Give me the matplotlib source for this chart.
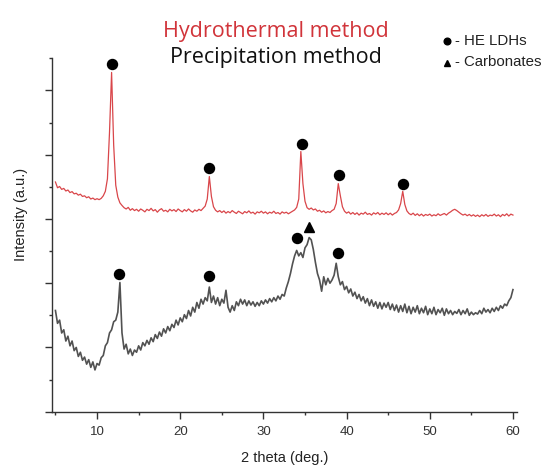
import numpy as np
import matplotlib
matplotlib.use("Agg")
import matplotlib.pyplot as plt
from matplotlib.ticker import MultipleLocator

# ---------------- data ----------------
two_theta = np.arange(5.0, 60.001, 0.25)

hydrothermal = [
    7.15, 6.97, 7.01, 6.92, 6.95, 6.87, 6.90, 6.82, 6.85, 6.78, 6.80, 6.74, 6.77, 6.70, 6.72, 6.66, 6.69, 6.62, 6.65, 6.60,
    6.63, 6.60, 6.64, 6.72, 6.86, 7.25, 8.70, 10.56, 8.30, 7.05, 6.68, 6.50, 6.42, 6.35, 6.31, 6.36, 6.27, 6.32, 6.26, 6.30,
    6.24, 6.31, 6.27, 6.22, 6.30, 6.26, 6.33, 6.25, 6.29, 6.21, 6.28, 6.32, 6.24, 6.27, 6.22, 6.30, 6.25, 6.29, 6.23, 6.31,
    6.26, 6.22, 6.29, 6.24, 6.31, 6.25, 6.21, 6.28, 6.24, 6.30, 6.26, 6.33, 6.40, 6.62, 7.32, 6.70, 6.38, 6.27, 6.22, 6.26,
    6.20, 6.25, 6.18, 6.23, 6.19, 6.26, 6.21, 6.17, 6.24, 6.20, 6.16, 6.23, 6.19, 6.25, 6.18, 6.21, 6.15, 6.22, 6.19, 6.24,
    6.18, 6.22, 6.16, 6.21, 6.18, 6.24, 6.17, 6.20, 6.15, 6.22, 6.18, 6.21, 6.16, 6.20, 6.24, 6.28, 6.36, 6.62, 8.10, 7.10,
    6.55, 6.35, 6.30, 6.34, 6.28, 6.31, 6.24, 6.27, 6.21, 6.25, 6.19, 6.23, 6.20, 6.26, 6.30, 6.48, 7.10, 6.72, 6.38, 6.24,
    6.18, 6.22, 6.15, 6.20, 6.14, 6.19, 6.12, 6.18, 6.15, 6.21, 6.14, 6.17, 6.12, 6.19, 6.15, 6.20, 6.13, 6.18, 6.14, 6.19,
    6.13, 6.18, 6.12, 6.17, 6.20, 6.28, 6.48, 6.86, 6.45, 6.25, 6.17, 6.13, 6.18, 6.11, 6.16, 6.10, 6.15, 6.09, 6.14, 6.11,
    6.15, 6.09, 6.13, 6.10, 6.16, 6.11, 6.14, 6.17, 6.12, 6.18, 6.22, 6.27, 6.30, 6.26, 6.21, 6.16, 6.12, 6.15, 6.10, 6.14,
    6.09, 6.13, 6.08, 6.12, 6.07, 6.13, 6.09, 6.14, 6.08, 6.12, 6.10, 6.15, 6.09, 6.13, 6.07, 6.14, 6.10, 6.16, 6.09, 6.15,
    6.12,
]

precipitation = [
    3.15, 2.75, 2.85, 2.45, 2.55, 2.20, 2.35, 2.05, 2.20, 1.90, 2.00, 1.72, 1.85, 1.60, 1.70, 1.48, 1.62, 1.38, 1.55, 1.30,
    1.50, 1.45, 1.68, 1.75, 2.05, 2.15, 2.45, 2.55, 2.80, 2.85, 3.10, 4.02, 2.45, 1.95, 2.10, 1.80, 1.95, 1.75, 1.92, 1.85,
    2.05, 1.92, 2.15, 2.05, 2.22, 2.10, 2.30, 2.18, 2.40, 2.28, 2.48, 2.35, 2.58, 2.45, 2.65, 2.52, 2.72, 2.62, 2.85, 2.70,
    2.92, 2.80, 3.02, 2.90, 3.15, 2.98, 3.25, 3.10, 3.40, 3.22, 3.50, 3.35, 3.55, 3.45, 3.88, 3.40, 3.60, 3.35, 3.55, 3.30,
    3.50, 3.38, 3.78, 3.25, 3.10, 3.30, 3.15, 3.42, 3.30, 3.50, 3.35, 3.48, 3.30, 3.45, 3.32, 3.42, 3.28, 3.40, 3.30, 3.45,
    3.35, 3.48, 3.38, 3.52, 3.42, 3.55, 3.45, 3.60, 3.50, 3.65, 3.60, 3.85, 4.05, 4.30, 4.60, 4.85, 5.02, 4.85, 4.95, 4.80,
    5.10, 5.20, 5.42, 5.35, 5.05, 4.65, 4.30, 4.10, 3.75, 4.20, 3.95, 4.15, 4.00, 4.10, 4.25, 4.62, 4.20, 3.95, 4.05, 3.80,
    3.90, 3.70, 3.82, 3.60, 3.72, 3.52, 3.65, 3.45, 3.58, 3.38, 3.52, 3.30, 3.48, 3.28, 3.42, 3.22, 3.40, 3.20, 3.38, 3.25,
    3.40, 3.18, 3.35, 3.15, 3.32, 3.10, 3.30, 3.12, 3.35, 3.08, 3.28, 3.05, 3.25, 3.10, 3.30, 3.05, 3.22, 3.08, 3.28, 3.02,
    3.20, 3.05, 3.25, 3.02, 3.18, 3.08, 3.22, 3.00, 3.20, 3.05, 3.15, 3.02, 3.12, 3.06, 3.18, 3.02, 3.15, 3.05, 3.20, 3.00,
    3.10, 3.02, 3.08, 3.04, 3.15, 3.05, 3.22, 3.10, 3.18, 3.08, 3.22, 3.12, 3.25, 3.15, 3.30, 3.22, 3.35, 3.30, 3.45, 3.55,
    3.80,
]

# phase markers (2theta, intensity position)
ldh_red_x = [11.8, 23.5, 34.6, 39.1, 46.8]
ldh_red_y = [10.83, 7.59, 8.34, 7.38, 7.10]
ldh_gray_x = [12.65, 23.45, 34.0, 39.0]
ldh_gray_y = [4.30, 4.21, 5.40, 4.95]
carb_x = [35.5]
carb_y = [5.74]

x_ticks = [10, 20, 30, 40, 50, 60]

# ---------------- figure ----------------
fig = plt.figure(figsize=(5.5, 4.66), dpi=100)
W, H = 550, 466
ax = fig.add_axes([51.7 / W, 1 - 411.7 / H, (516.7 - 51.7) / W, (411.7 - 58.3) / H])

red = "#d9464a"
gray = "#525252"
ax.plot(two_theta, hydrothermal, color=red, lw=0.9)
ax.plot(two_theta, precipitation, color=gray, lw=1.2)

ms = 7.2
ax.plot(ldh_red_x, ldh_red_y, "o", color="black", ms=ms, clip_on=False)
ax.plot(ldh_gray_x, ldh_gray_y, "o", color="black", ms=ms, clip_on=False)
ax.plot(carb_x, carb_y, "^", color="black", ms=ms, clip_on=False)

ax.set_xlim(4.55, 60.45)
ax.set_ylim(0, 11)
ax.set_xticks(x_ticks)
ax.xaxis.set_minor_locator(MultipleLocator(5))
ax.yaxis.set_major_locator(MultipleLocator(2))
ax.yaxis.set_minor_locator(MultipleLocator(1))
ax.yaxis.set_major_formatter(plt.NullFormatter())

for s in ["top", "right"]:
    ax.spines[s].set_visible(False)
for s in ["left", "bottom"]:
    ax.spines[s].set_color("#333333")
    ax.spines[s].set_linewidth(1.0)

ax.tick_params(axis="both", which="major", length=5, width=1.0, color="#333333",
               labelsize=9.5, labelcolor="#333333", pad=5)
ax.tick_params(axis="both", which="minor", length=2.5, width=1.0, color="#333333")
for lab in ax.get_xticklabels():
    lab.set_family("Liberation Sans")

fig.text(285 / W, 1 - 458 / H, "2 theta (deg.)", ha="center", va="center",
         fontsize=10.5, family="Liberation Sans", color="#222222")
fig.text(21 / W, 1 - 214 / H, "Intensity (a.u.)", ha="center", va="center",
         rotation=90, fontsize=10.5, family="Liberation Sans", color="#222222")

fig.text(276 / W, 1 - 31 / H, "Hydrothermal method", ha="center", va="center",
         fontsize=15.5, family="Open Sans", color="#d1343a")
fig.text(276 / W, 1 - 58 / H, "Precipitation method", ha="center", va="center",
         fontsize=15.5, family="Open Sans", color="#111111")

# legend-like annotation
fig.lines.append(plt.Line2D([446.7 / W], [1 - 41 / H], marker="o", color="black", ms=4.8,
                            transform=fig.transFigure))
fig.lines.append(plt.Line2D([446.7 / W], [1 - 63 / H], marker="^", color="black", ms=5.0,
                            transform=fig.transFigure))
fig.text(455 / W, 1 - 41 / H, "- HE LDHs", ha="left", va="center",
         fontsize=10.8, family="Liberation Sans", color="#222222")
fig.text(455 / W, 1 - 62 / H, "- Carbonates", ha="left", va="center",
         fontsize=10.8, family="Liberation Sans", color="#222222")

fig.savefig("out.png", dpi=100)
